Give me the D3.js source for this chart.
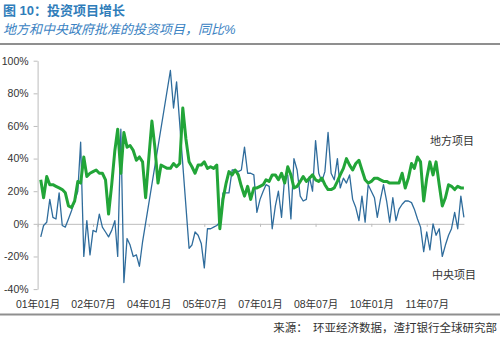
<!DOCTYPE html>
<html>
<head>
<meta charset="utf-8">
<script src="https://cdn.jsdelivr.net/npm/d3@7"></script>
<style>
  body { margin: 0; background: #fff; }
  svg { display: block; font-family: "Liberation Sans", Arial, "Noto Sans CJK SC", sans-serif; }
</style>
</head>
<body>
<svg id="chart" width="500" height="338"></svg>
<script>
// Monthly growth, % y/y, first observation Feb 2001
const firstMonth = "2001-02";

// 地方项目 (local government approved projects)
const localProjects = [
  27, 16, 29, 24, 24, 23, 22, 21, 19, 11,
  10, 14, 26, 25, 41, 29, 31, 32, 33, 31,
  31, 27, 6, 24, 45, 58, 31, 56, 47, 48,
  45, 39, 41, 38, 16, 40, 63, 47, 25, 36,
  35, 34, 34, 37, 35, 37, 71, 52, 38, 35,
  31, 36, 36, 38, 34, 35, 34, 36, -3, 15,
  25, 32, 30, 33, 30, 23, 17, 23, 15, 22,
  22, 23, 24, 27, 26, 30, 30, 27, 31, 25,
  35, 30, 22, 23, 26, 29, 26, 28, 30, 27,
  26, 28, 24, 21, 21, 22, 26, 30, 34, 40,
  36, 33, 37, 39, 33, 27, 25, 26, 28, 28,
  27, 26, 26, 25, 25, 25, 25, 31, 22, 28,
  37, 34, 41, 38, 14, 28, 38, 30, 38, 24,
  11, 16, 24, 23, 21, 23, 22, 22
];

// 中央项目 (central government approved projects); null = no observation
const centralProjects = [
  -8, -1, 1, 15, 4, 3, 19, -1, -2, 3,
  8, 14, 20, 50, -20, 2, -19, -4, -5, 6,
  -2, -5, -8, -4, 2, -20, 58, -36, -9, -13,
  -20, -19, -26, -11, null, null, null, null, null, null,
  null, null, 94, 71, 87, null, null, null, -15, -13,
  -5, -7, -12, -27, -3, -3, -2, -1, 1, 19,
  19, 19, 33, 33, 32, 33, 47, 31, 31, 30,
  7, 15, 20, 24, 23, -3, 11, 20, 4, 29,
  30, 3, 40, 33, 17, 14, 15, 29, 20, 51,
  31, 26, 32, 56, 31, 27, 40, 22, 28, 25,
  30, 15, 10, 2, 17, 1, 24, 20, 16, 4,
  15, 24, 14, 1, 16, 2, 9, 12, 14, 14,
  13, 9, 3, -2, -17, -5, -16, 0, -7, -3,
  -20, -13, -7, -3, 7, -3, 17, 4
];

const xTickMonths = ["2001-01", "2002-07", "2004-01", "2005-07", "2007-01", "2008-07", "2010-01", "2011-07"];
const xTickLabels = ["01年01月", "02年07月", "04年01月", "05年07月", "07年01月", "08年07月", "10年01月", "11年07月"];
const yTicks = [-40, -20, 0, 20, 40, 60, 80, 100];
const seriesNames = ["地方项目", "中央项目"];

const titleText = "图 10：投资项目增长";
const subtitleText = "地方和中央政府批准的投资项目，同比%";
const sourceText = "来源：  环亚经济数据，渣打银行全球研究部";

const svg = d3.select("#chart");
const parseMonth = d3.utcParse("%Y-%m");
const start = parseMonth(firstMonth);

const toPoints = arr => arr
  .map((v, i) => ({ date: d3.utcMonth.offset(start, i), value: v }))
  .filter(d => d.value !== null);

const localPts = toPoints(localProjects);
const centralPts = toPoints(centralProjects);

const x = d3.scaleUtc()
  .domain([parseMonth("2001-01"), parseMonth("2012-07")])
  .range([37.6, 463.9]);

const y = d3.scaleLinear()
  .domain([-40, 100])
  .range([289.1, 60.7]);

// Header
svg.append("text")
  .attr("x", 3).attr("y", 14.5)
  .attr("font-size", 13).attr("font-weight", "bold")
  .attr("fill", "#2f7dba")
  .attr("font-family", "'Liberation Sans', 'Noto Sans CJK SC', sans-serif")
  .text(titleText);

svg.append("text")
  .attr("x", 3).attr("y", 34)
  .attr("font-size", 13).attr("font-style", "italic")
  .attr("fill", "#3a82c2")
  .attr("font-family", "'Liberation Sans', 'Noto Sans CJK SC', sans-serif")
  .text(subtitleText);

svg.append("line")
  .attr("x1", 0).attr("x2", 500).attr("y1", 44).attr("y2", 44)
  .attr("stroke", "#8f8f8f").attr("stroke-width", 2);

// Y axis
const yAxis = d3.axisLeft(y)
  .tickValues(yTicks)
  .tickSize(4)
  .tickSizeOuter(0)
  .tickPadding(5)
  .tickFormat(d => d + "%");

const gy = svg.append("g")
  .attr("transform", `translate(${x.range()[0]},0)`)
  .call(yAxis);
gy.select(".domain").attr("stroke", "#bdbdbd");
gy.selectAll(".tick line").attr("stroke", "#bdbdbd");
gy.selectAll(".tick text")
  .attr("font-size", 10.5).attr("fill", "#333")
  .attr("font-family", "'Liberation Sans', Arial, sans-serif");

// Zero line with month ticks
const tickDates = xTickMonths.map(parseMonth);
const xAxisZero = d3.axisBottom(x)
  .tickValues(tickDates)
  .tickSize(3)
  .tickSizeOuter(0)
  .tickFormat("");
const gx0 = svg.append("g")
  .attr("transform", `translate(0,${y(0)})`)
  .call(xAxisZero);
gx0.select(".domain").attr("stroke", "#bdbdbd");
gx0.selectAll(".tick line").attr("stroke", "#bdbdbd");

// Month labels along the bottom
const xAxisLabels = d3.axisBottom(x)
  .tickValues(tickDates)
  .tickSize(0)
  .tickPadding(0)
  .tickFormat((d, i) => xTickLabels[i]);
const gxl = svg.append("g")
  .attr("transform", "translate(0,300.5)")
  .call(xAxisLabels);
gxl.select(".domain").remove();
gxl.selectAll(".tick text")
  .attr("font-size", 10.5).attr("fill", "#333")
  .attr("font-family", "'Liberation Sans', Arial, 'Noto Sans CJK SC', sans-serif");

// Series
const line = d3.line()
  .x(d => x(d.date))
  .y(d => y(d.value));

svg.append("path")
  .datum(centralPts)
  .attr("fill", "none")
  .attr("stroke", "#2f6c9c")
  .attr("stroke-width", 1.3)
  .attr("stroke-linejoin", "round")
  .attr("d", line);

svg.append("path")
  .datum(localPts)
  .attr("fill", "none")
  .attr("stroke", "#22a538")
  .attr("stroke-width", 3)
  .attr("stroke-linejoin", "round")
  .attr("d", line);

// Series labels
svg.append("text")
  .attr("x", 430).attr("y", 145)
  .attr("font-size", 11).attr("fill", "#333")
  .attr("font-family", "'Noto Sans CJK SC', sans-serif")
  .text(seriesNames[0]);

svg.append("text")
  .attr("x", 432).attr("y", 279)
  .attr("font-size", 11).attr("fill", "#333")
  .attr("font-family", "'Noto Sans CJK SC', sans-serif")
  .text(seriesNames[1]);

// Footer
svg.append("line")
  .attr("x1", 0).attr("x2", 500).attr("y1", 314.5).attr("y2", 314.5)
  .attr("stroke", "#8f8f8f").attr("stroke-width", 2);

svg.append("text")
  .attr("x", 497).attr("y", 332)
  .attr("text-anchor", "end")
  .attr("font-size", 11.5).attr("fill", "#333")
  .attr("font-family", "'Noto Sans CJK SC', sans-serif")
  .attr("xml:space", "preserve")
  .style("white-space", "pre")
  .text(sourceText);
</script>
</body>
</html>
